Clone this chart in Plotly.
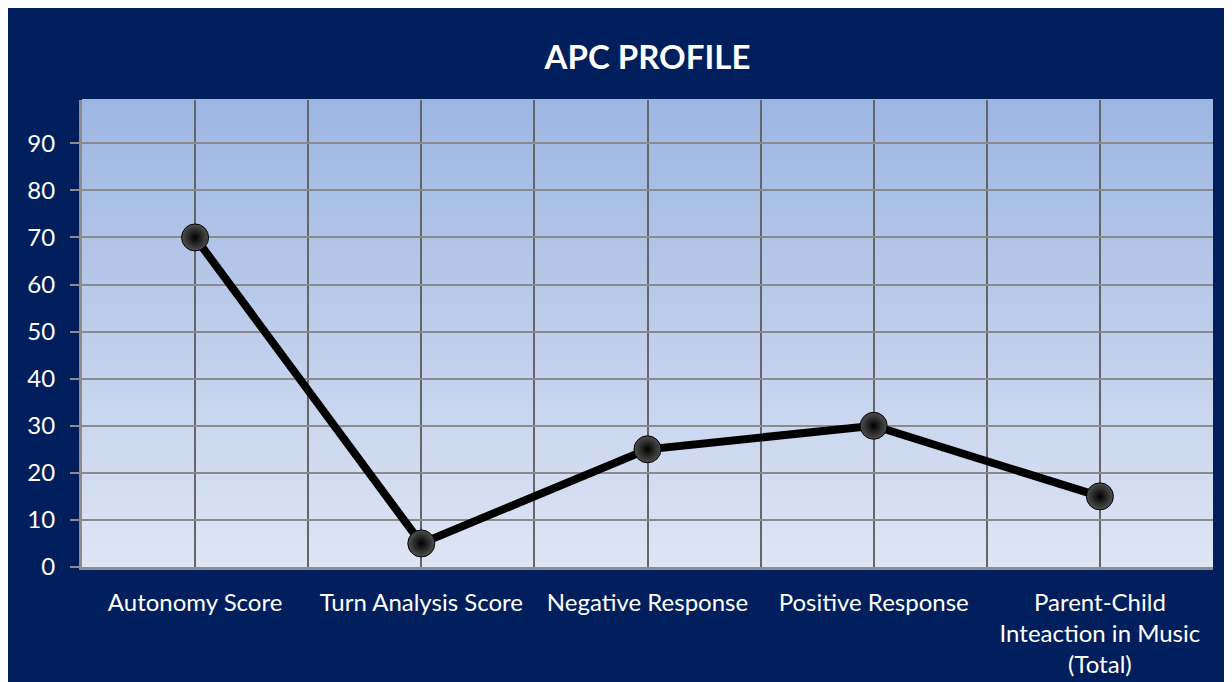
import plotly.graph_objects as go

categories = [
    "Autonomy Score",
    "Turn Analysis Score",
    "Negative Response",
    "Positive Response",
    "Parent-Child<br>Inteaction in Music<br>(Total)",
]
scores = [70, 5, 25, 30, 15]
y_ticks = [0, 10, 20, 30, 40, 50, 60, 70, 80, 90]

NAVY = "#001F5C"
FONT = "Lato"

x_pos = list(range(len(categories)))

fig = go.Figure()
fig.add_trace(
    go.Scatter(
        x=x_pos,
        y=scores,
        mode="lines+markers",
        line=dict(color="black", width=8),
        marker=dict(
            size=27,
            color="#505050",
            gradient=dict(type="radial", color="black"),
            line=dict(color="black", width=1),
        ),
        showlegend=False,
        cliponaxis=False,
    )
)

# vertical gradient in the plot area
top = (157, 182, 227)
bot = (222, 229, 244)
n = 80
shapes = []
for i in range(n):
    t = i / (n - 1)
    c = tuple(round(bot[k] + (top[k] - bot[k]) * t) for k in range(3))
    shapes.append(
        dict(
            type="rect", xref="x domain", yref="y domain",
            x0=0, x1=1, y0=i / n, y1=(i + 1) / n + 0.002,
            fillcolor="rgb(%d,%d,%d)" % c, line=dict(width=0), layer="below",
        )
    )

fig.update_layout(
    width=1232,
    height=682,
    margin=dict(l=74, r=27, t=92, b=123),
    paper_bgcolor=NAVY,
    plot_bgcolor=NAVY,
    shapes=shapes,
    font=dict(family=FONT, color="white", size=24),
    title=dict(
        text="<b>APC PROFILE</b>",
        x=0.5, xanchor="center", xref="paper",
        y=1 - 49 / 682, yanchor="middle", yref="container",
        font=dict(size=33, color="white", family=FONT),
    ),
)

fig.update_xaxes(
    range=[-0.5, 4.5],
    tickvals=x_pos,
    ticktext=categories,
    showgrid=True,
    gridcolor="#666666",
    gridwidth=2,
    minor=dict(tickvals=[-0.5, 0.5, 1.5, 2.5, 3.5, 4.5], showgrid=True,
               gridcolor="#666666", gridwidth=2),
    showline=True,
    linecolor="#8c8c8c",
    linewidth=3,
    ticks="",
    ticklabelstandoff=12,
    zeroline=False,
)

fig.update_yaxes(
    range=[0, 99.2],
    tickvals=y_ticks,
    showgrid=True,
    gridcolor="#8a8a8a",
    gridwidth=2,
    showline=True,
    linecolor="#8c8c8c",
    linewidth=3,
    ticks="outside",
    ticklen=9,
    tickwidth=2,
    tickcolor="#8c8c8c",
    ticklabelstandoff=10,
    zeroline=False,
)

fig.write_html("out.html")
